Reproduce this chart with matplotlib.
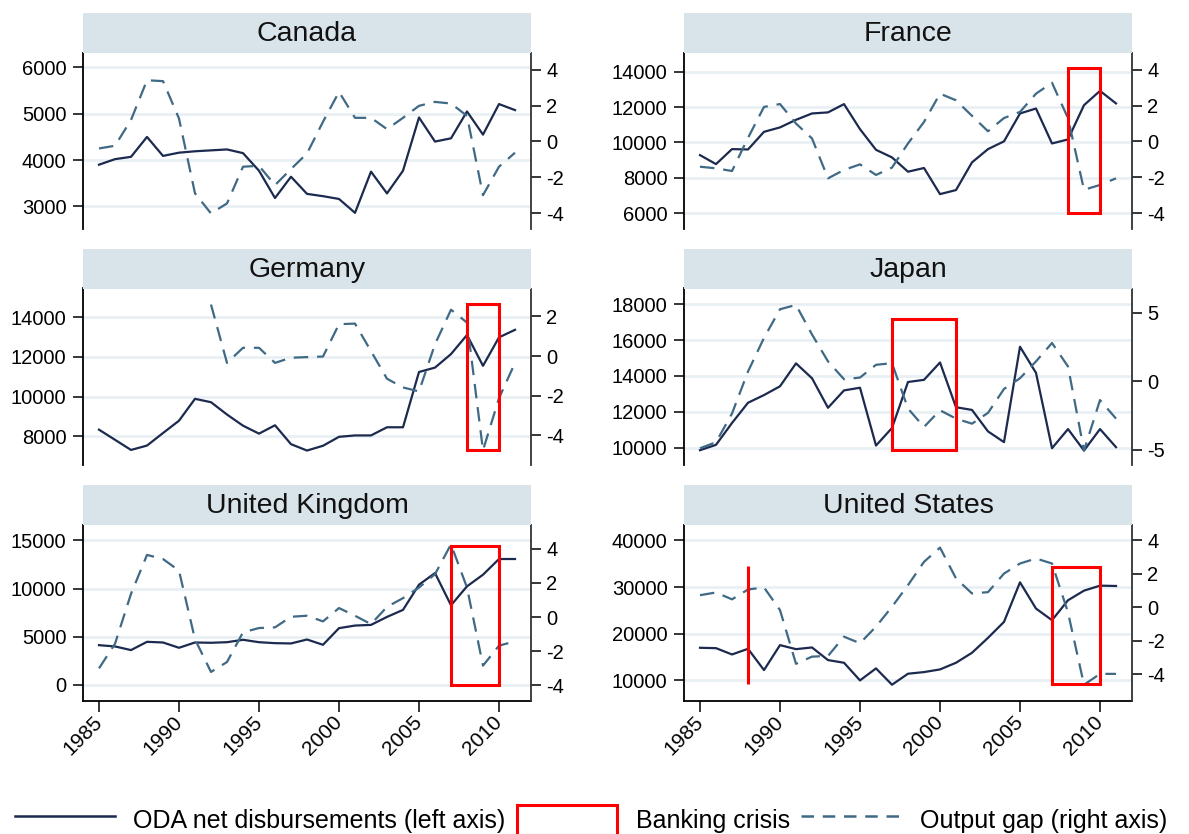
import numpy as np
import matplotlib
matplotlib.use("Agg")
import matplotlib.pyplot as plt
from matplotlib.patches import Rectangle, Patch
from matplotlib.lines import Line2D

plt.rcParams['font.family'] = ['Liberation Sans', 'DejaVu Sans']

years = list(range(1985, 2012))

# ODA net disbursements (left axis)
oda_canada = [3900, 4020, 4070, 4500, 4090, 4160, 4190, 4210, 4230, 4150, 3770, 3180, 3640, 3270,
              3220, 3160, 2860, 3750, 3280, 3770, 4920, 4400, 4470, 5050, 4550, 5210, 5080]
oda_france = [9280, 8770, 9620, 9600, 10600, 10850, 11280, 11640, 11700, 12170, 10750, 9580, 9150, 8340,
              8550, 7070, 7300, 8870, 9620, 10060, 11640, 11920, 9940, 10170, 12110, 12920, 12210]
oda_germany = [8340, 7830, 7320, 7540, 8170, 8790, 9890, 9720, 9100, 8540, 8140, 8560, 7610, 7290,
               7530, 7980, 8050, 8050, 8460, 8460, 11240, 11460, 12140, 13100, 11550, 12980, 13360]
oda_japan = [9850, 10150, 11370, 12500, 12930, 13420, 14700, 13870, 12220, 13190, 13340, 10110, 11090, 13660,
             13780, 14750, 12250, 12100, 10900, 10300, 15630, 14170, 9960, 11030, 9830, 11030, 10020]
oda_uk = [4110, 3980, 3600, 4460, 4390, 3840, 4390, 4360, 4420, 4670, 4420, 4320, 4290, 4700,
          4150, 5880, 6150, 6220, 7050, 7780, 10400, 11610, 8260, 10230, 11440, 13070, 13070]
oda_us = [16990, 16910, 15560, 16770, 12210, 17560, 16700, 17060, 14350, 13780, 10000, 12570, 9070, 11430,
          11780, 12350, 13780, 15920, 19120, 22540, 31030, 25400, 22900, 27180, 29240, 30310, 30240]

# output gap (right axis)
gap_canada = [-0.39, -0.24, 1.2, 3.42, 3.37, 1.28, -2.9, -4.02, -3.46, -1.41, -1.36, -2.44, -1.54, -0.67,
              1.1, 2.77, 1.32, 1.32, 0.69, 1.32, 1.99, 2.21, 2.12, 1.43, -3.0, -1.41, -0.63]
gap_france = [-1.41, -1.5, -1.65, 0.2, 1.93, 2.09, 1.0, 0.17, -2.06, -1.59, -1.28, -1.87, -1.46, -0.11,
              1.09, 2.67, 2.3, 1.43, 0.57, 1.31, 1.65, 2.67, 3.28, 1.3, -2.7, -2.43, -2.06]
gap_germany = [np.nan] * 7 + [2.6, -0.34, 0.42, 0.42, -0.34, -0.08, -0.05, -0.02, 1.61, 1.64, 0.25,
                              -1.14, -1.58, -1.78, 0.6, 2.34, 1.69, -4.75, -2.12, -0.34]
gap_japan = [-4.88, -4.44, -2.35, 0.71, 3.16, 5.25, 5.56, 3.41, 1.45, 0.15, 0.27, 1.2, 1.32, -1.99,
             -3.33, -2.11, -2.72, -3.09, -2.3, -0.56, 0.22, 1.45, 2.79, 1.08, -5.05, -1.37, -2.72]
gap_uk = [-3.0, -1.56, 1.36, 3.64, 3.4, 2.72, -1.3, -3.21, -2.63, -0.89, -0.64, -0.6, 0.02, 0.08,
          -0.25, 0.53, 0.08, -0.41, 0.6, 1.11, 1.73, 2.51, 4.26, 1.73, -2.84, -1.67, -1.42]
gap_us = [0.73, 0.89, 0.48, 1.07, 1.19, -0.16, -3.37, -2.94, -2.9, -1.75, -2.14, -1.15, 0.04, 1.33,
          2.72, 3.57, 1.73, 0.83, 0.91, 2.02, 2.62, 2.92, 2.62, -0.3, -4.62, -3.97, -3.97]

# banking crises: (first year, last year, low, high) in right-axis units
crisis_canada = []
crisis_france = [(2008, 2010, -4.0, 4.13)]
crisis_germany = [(2008, 2010, -4.73, 2.61)]
crisis_japan = [(1997, 2001, -5.0, 4.56)]
crisis_uk = [(2007, 2010, -3.95, 4.18)]
crisis_us = [(1988, 1988, -4.6, 2.49), (2007, 2010, -4.6, 2.39)]

countries = ['Canada', 'France', 'Germany', 'Japan', 'United Kingdom', 'United States']
left_ticks = [[3000, 4000, 5000, 6000], [6000, 8000, 10000, 12000, 14000], [8000, 10000, 12000, 14000],
              [10000, 12000, 14000, 16000, 18000], [0, 5000, 10000, 15000], [10000, 20000, 30000, 40000]]
right_ticks = [[-4, -2, 0, 2, 4], [-4, -2, 0, 2, 4], [-4, -2, 0, 2],
               [-5, 0, 5], [-4, -2, 0, 2, 4], [-4, -2, 0, 2, 4]]
x_ticks = [1985, 1990, 1995, 2000, 2005, 2010]

panels = list(zip(countries,
                  [oda_canada, oda_france, oda_germany, oda_japan, oda_uk, oda_us],
                  [gap_canada, gap_france, gap_germany, gap_japan, gap_uk, gap_us],
                  [crisis_canada, crisis_france, crisis_germany, crisis_japan, crisis_uk, crisis_us],
                  left_ticks, right_ticks))

# axis ranges
left_lims = [(2511, 6324), (5094, 15094), (6563, 15437), (9023, 18883), (-1694, 16659), (5581, 43421)]
right_lims = [(-4.89, 4.97), (-4.89, 4.97), (-5.49, 3.41), (-6.10, 6.76), (-4.91, 5.42), (-5.59, 4.95)]

navy = '#1b2a4e'
gapcol = '#3f6985'
stripcol = '#d8e3ea'
gridcol = '#e9f0f3'

W, H = 1189, 834
fig = plt.figure(figsize=(W / 100, H / 100), dpi=100)
col_x = [83, 684]
row_top = [52.5, 288.5, 524.5]
ax_w, ax_h = 448, 176.5
strip_h = 39.5

for i, (name, oda, gap, crises, lt, rt) in enumerate(panels):
    r, c = divmod(i, 2)
    x0, top = col_x[c], row_top[r]
    ax = fig.add_axes([x0 / W, 1 - (top + ax_h) / H, ax_w / W, ax_h / H])
    ax2 = ax.twinx()

    ax.plot(years, oda, color=navy, lw=1.6)
    ax2.plot(years, gap, color=gapcol, lw=1.6, dashes=(6.5, 4))
    for y0, y1, lo, hi in crises:
        ax2.add_patch(Rectangle((y0, lo), y1 - y0, hi - lo, fill=False,
                                edgecolor='#ff0000', lw=2.2, zorder=5))

    ax.set_xlim(1984, 2012)
    ax.set_ylim(*left_lims[i])
    ax2.set_ylim(*right_lims[i])
    ax.set_yticks(lt)
    ax.set_yticklabels([str(v) for v in lt])
    ax2.set_yticks(rt)
    ax2.set_yticklabels([str(v) for v in rt])
    ax.grid(axis='y', color=gridcol, lw=2)
    ax.set_axisbelow(True)

    ax.tick_params(axis='y', labelsize=14.5, length=7.5, width=1.1, pad=4.3, direction='out')
    ax2.tick_params(axis='y', labelsize=14.5, length=7.5, width=1.1, pad=3.4, direction='out')

    for s in ['top', 'right']:
        ax.spines[s].set_visible(False)
    for s in ['top', 'left', 'bottom']:
        ax2.spines[s].set_visible(False)
    ax.spines['left'].set_linewidth(1.3)
    ax2.spines['right'].set_linewidth(1.3)
    ax2.spines['right'].set_color('#333333')

    if r == 2:
        ax.set_xticks(x_ticks)
        ax.set_xticklabels([str(v) for v in x_ticks], rotation=45, ha='right',
                           va='center', rotation_mode='anchor')
        ax.tick_params(axis='x', labelsize=15, length=8, width=1.1, pad=5)
        ax.spines['bottom'].set_linewidth(1.3)
    else:
        ax.spines['bottom'].set_visible(False)
        ax.tick_params(axis='x', bottom=False, labelbottom=False)

    strip = fig.add_axes([x0 / W, 1 - top / H, ax_w / W, strip_h / H])
    strip.set_facecolor(stripcol)
    strip.set_xticks([])
    strip.set_yticks([])
    for s in strip.spines.values():
        s.set_visible(False)
    strip.text(0.5, 0.47, name, ha='center', va='center', fontsize=20.5, color='#111111')

handles = [Line2D([], [], color=navy, lw=1.8),
           Patch(facecolor='white', edgecolor='#ff0000', lw=2.2),
           Line2D([], [], color=gapcol, lw=1.8, dashes=(5, 3.5))]
labels = ['ODA net disbursements (left axis)', 'Banking crisis', 'Output gap (right axis)']
fig.legend(handles, labels, loc='center', bbox_to_anchor=(0.497, 0.017), ncol=3, frameon=False,
           fontsize=18, handlelength=4, handleheight=1.5, handletextpad=0.75,
           columnspacing=0.45, borderpad=0)

fig.savefig('out.png', dpi=100)
